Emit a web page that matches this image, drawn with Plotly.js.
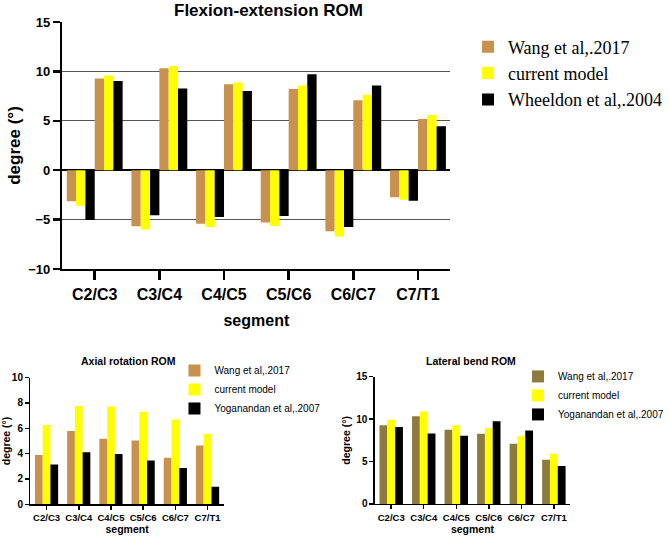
<!DOCTYPE html>
<html>
<head>
<meta charset="utf-8">
<script src="https://cdn.plot.ly/plotly-3.0.1.min.js"></script>
<style>html,body{margin:0;padding:0;background:#fff;}#chart{width:669px;height:537px;}</style>
</head>
<body>
<div id="chart"></div>
<script>
// ---- data ----
var segments = ['C2/C3', 'C3/C4', 'C4/C5', 'C5/C6', 'C6/C7', 'C7/T1'];

// Flexion-extension ROM (flexion positive, extension negative)
var flexWang     = [9.27, 10.31, 8.71, 8.23, 7.09, 5.18];
var flexModel    = [9.58, 10.56, 8.88, 8.58, 7.63, 5.58];
var flexWheeldon = [9.04, 8.28, 8.01, 9.72, 8.57, 4.44];
var extWang      = [-3.14, -5.67, -5.43, -5.30, -6.18, -2.75];
var extModel     = [-3.61, -6.01, -5.76, -5.66, -6.72, -3.00];
var extWheeldon  = [-5.05, -4.57, -4.73, -4.64, -5.76, -3.09];

// Axial rotation ROM
var axWang  = [3.90, 5.78, 5.17, 5.04, 3.67, 4.65];
var axModel = [6.27, 7.77, 7.72, 7.31, 6.70, 5.55];
var axYog   = [3.15, 4.11, 3.98, 3.45, 2.87, 1.39];

// Lateral bend ROM
var latWang  = [9.29, 10.35, 8.74, 8.27, 7.09, 5.20];
var latModel = [9.92, 10.91, 9.29, 8.94, 7.99, 5.91];
var latYog   = [9.06, 8.31, 8.03, 9.76, 8.66, 4.49];

var nameWang = 'Wang et al,.2017';
var nameModel = 'current model';
var nameWheeldon = 'Wheeldon et al,.2004';
var nameYog = 'Yoganandan et al,.2007';

// ---- styles ----
var TAN = '#C8914D', OLIVE = '#8C7B3C', YEL = '#FFFF00', BLK = '#000000';
var SANS = 'Liberation Sans, Arial, sans-serif';
var SERIF = 'Liberation Serif, Times New Roman, serif';
var W = 0.144;

function mainBar(y, name, color, off, show) {
  return {type: 'bar', x: segments, y: y, name: name, xaxis: 'x', yaxis: 'y',
    width: W, offset: off * W, marker: {color: color, line: {width: 0}},
    legend: 'legend', legendgroup: name, showlegend: show, hoverinfo: 'x+y'};
}
function smallBar(y, name, color, ax, lg) {
  return {type: 'bar', x: segments, y: y, name: name, xaxis: 'x' + ax, yaxis: 'y' + ax,
    marker: {color: color, line: {width: 0}}, legend: lg, legendgroup: lg + name, hoverinfo: 'x+y'};
}

var data = [
  mainBar(flexWang, nameWang, TAN, 0, true),
  mainBar(flexModel, nameModel, YEL, 1, true),
  mainBar(flexWheeldon, nameWheeldon, BLK, 2, true),
  mainBar(extWang, nameWang, TAN, -3, false),
  mainBar(extModel, nameModel, YEL, -2, false),
  mainBar(extWheeldon, nameWheeldon, BLK, -1, false),
  smallBar(axWang, nameWang, TAN, 2, 'legend2'),
  smallBar(axModel, nameModel, YEL, 2, 'legend2'),
  smallBar(axYog, nameYog, BLK, 2, 'legend2'),
  smallBar(latWang, nameWang, OLIVE, 3, 'legend3'),
  smallBar(latModel, nameModel, YEL, 3, 'legend3'),
  smallBar(latYog, nameYog, BLK, 3, 'legend3')
];

function bold(size) { return {family: SANS, size: size, color: '#000', weight: 'bold'}; }

function smallX(dom, anchor) {
  return {domain: dom, anchor: anchor, type: 'category', showline: true, linecolor: '#000', linewidth: 1.5,
    ticks: 'outside', ticklen: 4, tickwidth: 1.5, tickcolor: '#000', showgrid: false, zeroline: false,
    tickfont: bold(9.5), title: {text: 'segment', font: bold(10.5), standoff: 3}, fixedrange: true};
}
function smallY(dom, anchor, rng, dt, so) {
  return {domain: dom, anchor: anchor, range: rng, dtick: dt, showline: true, linecolor: '#000', linewidth: 1.5,
    ticks: 'outside', ticklen: 4, tickwidth: 1.5, tickcolor: '#000', showgrid: false, zeroline: false,
    tickfont: bold(10), title: {text: 'degree (°)', font: bold(10.5), standoff: so}, fixedrange: true};
}

var layout = {
  width: 669, height: 537,
  margin: {l: 0, r: 0, t: 0, b: 0},
  paper_bgcolor: '#fff', plot_bgcolor: 'rgba(0,0,0,0)',
  barmode: 'group', bargap: 0.28, bargroupgap: 0,
  font: {family: SANS, color: '#000'},
  showlegend: true,
  xaxis: {domain: [0.0934, 0.6741], anchor: 'y', type: 'category', range: [-0.5, 5.5],
    showline: true, linecolor: '#000', linewidth: 2.5, ticks: 'outside', ticklen: 9, tickwidth: 2.5,
    tickcolor: '#000', showgrid: false, zeroline: false, tickfont: bold(16),
    title: {text: 'segment', font: bold(16), standoff: 13}, fixedrange: true},
  yaxis: {domain: [0.4991, 0.959], anchor: 'x', range: [-10, 15], dtick: 5,
    showline: true, linecolor: '#000', linewidth: 2.5, ticks: 'outside', ticklen: 7, tickwidth: 2.5,
    tickcolor: '#000', showgrid: true, gridcolor: '#555', gridwidth: 1.2,
    zeroline: true, zerolinecolor: '#000', zerolinewidth: 2,
    tickfont: bold(13), title: {text: 'degree (°)', font: bold(17), standoff: 4}, fixedrange: true},
  xaxis2: smallX([0.0456, 0.3348], 'y2'),
  yaxis2: smallY([0.0609, 0.2967], 'x2', [0, 10], 2, 2),
  xaxis3: smallX([0.5613, 0.8535], 'y3'),
  yaxis3: smallY([0.0615, 0.2985], 'x3', [0, 15], 5, 3.5),
  legend: {x: 0.6996, y: 0.947, xanchor: 'left', yanchor: 'top', bgcolor: 'rgba(0,0,0,0)',
    font: {family: SERIF, size: 18, color: '#000'}, traceorder: 'normal'},
  legend2: {x: 0.2608, y: 0.337, xanchor: 'left', yanchor: 'top', bgcolor: 'rgba(0,0,0,0)',
    font: {family: SANS, size: 10, color: '#000'}, traceorder: 'normal'},
  legend3: {x: 0.7758, y: 0.326, xanchor: 'left', yanchor: 'top', bgcolor: 'rgba(0,0,0,0)',
    font: {family: SANS, size: 10, color: '#000'}, traceorder: 'normal'},
  annotations: [
    {text: 'Flexion-extension ROM', xref: 'paper', yref: 'paper', x: 0.402, y: 0.9804,
      xanchor: 'center', yanchor: 'middle', showarrow: false, font: bold(17)},
    {text: 'Axial rotation ROM', xref: 'paper', yref: 'paper', x: 0.1928, y: 0.3277,
      xanchor: 'center', yanchor: 'middle', showarrow: false, font: bold(10.5)},
    {text: 'Lateral bend ROM', xref: 'paper', yref: 'paper', x: 0.7051, y: 0.3277,
      xanchor: 'center', yanchor: 'middle', showarrow: false, font: bold(10.5)}
  ]
};

Plotly.newPlot('chart', data, layout, {displayModeBar: false, staticPlot: true});
</script>
</body>
</html>
